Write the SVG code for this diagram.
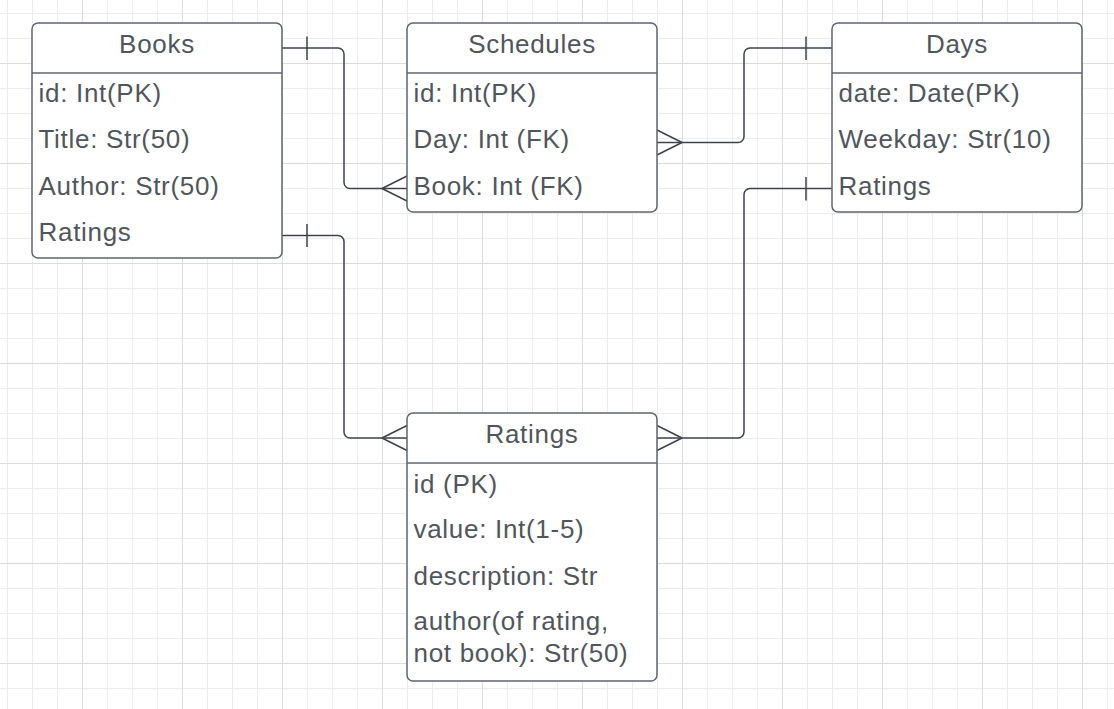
<svg xmlns="http://www.w3.org/2000/svg" width="1114" height="709" viewBox="0 0 1114 709">
<defs>
<pattern id="minor" width="25" height="25" patternUnits="userSpaceOnUse" x="7" y="13">
<path d="M0.5 0V25M0 0.5H25" stroke="#ececec" stroke-width="1" fill="none"/>
</pattern>
<pattern id="major" width="100" height="100" patternUnits="userSpaceOnUse" x="82" y="63">
<path d="M0.5 0V100M0 0.5H100" stroke="#dcdcdc" stroke-width="1" fill="none"/>
</pattern>
</defs>
<style>
.box{fill:#fff;stroke:#5e6570;stroke-width:1.5}
.div{stroke:#5e6570;stroke-width:1.5}
.t{font-family:"Liberation Sans",Arial,sans-serif;font-size:26px;fill:#50565e;letter-spacing:0.7px}
.h{text-anchor:middle}
.c{fill:none;stroke:#3c434c;stroke-width:1.5}
</style>
<rect width="1114" height="709" fill="#fff"/>
<rect width="1114" height="709" fill="url(#minor)"/>
<rect width="1114" height="709" fill="url(#major)"/>

<g id="connectors">
<path class="c" d="M282 48H338a6 6 0 0 1 6 6V182.5a6 6 0 0 0 6 6H407"/>
<path class="c" d="M307 36.5V60M382 188.5L407 176M382 188.5L407 201"/>
<path class="c" d="M282 235.5H338a6 6 0 0 1 6 6V432a6 6 0 0 0 6 6H407"/>
<path class="c" d="M307 224V247M382 438L407 425.5M382 438L407 450.5"/>
<path class="c" d="M657 142.5H738a6 6 0 0 0 6 -6V54a6 6 0 0 1 6 -6H832"/>
<path class="c" d="M806 36.5V60M682 142.5L657 130M682 142.5L657 155"/>
<path class="c" d="M657 438H738a6 6 0 0 0 6 -6V194.5a6 6 0 0 1 6 -6H832"/>
<path class="c" d="M806 177V200.5M682 438L657 425.5M682 438L657 450.5"/>
</g>

<g id="books">
<rect class="box" x="32" y="23" width="250" height="235" rx="6"/>
<line class="div" x1="32" y1="73" x2="282" y2="73"/>
<text class="t h" x="157" y="53">Books</text>
<text class="t" x="38.5" y="102">id: Int(PK)</text>
<text class="t" x="38.5" y="148">Title: Str(50)</text>
<text class="t" x="38.5" y="195">Author: Str(50)</text>
<text class="t" x="38.5" y="241">Ratings</text>
</g>

<g id="schedules">
<rect class="box" x="407" y="23" width="250" height="189" rx="6"/>
<line class="div" x1="407" y1="73" x2="657" y2="73"/>
<text class="t h" x="532" y="53">Schedules</text>
<text class="t" x="413.5" y="102">id: Int(PK)</text>
<text class="t" x="413.5" y="148">Day: Int (FK)</text>
<text class="t" x="413.5" y="195">Book: Int (FK)</text>
</g>

<g id="days">
<rect class="box" x="832" y="23" width="250" height="189" rx="6"/>
<line class="div" x1="832" y1="73" x2="1082" y2="73"/>
<text class="t h" x="957" y="53">Days</text>
<text class="t" x="838.5" y="102">date: Date(PK)</text>
<text class="t" x="838.5" y="148">Weekday: Str(10)</text>
<text class="t" x="838.5" y="195">Ratings</text>
</g>

<g id="ratings">
<rect class="box" x="407" y="413" width="250" height="268" rx="6"/>
<line class="div" x1="407" y1="463" x2="657" y2="463"/>
<text class="t h" x="532" y="443">Ratings</text>
<text class="t" x="413.5" y="493">id (PK)</text>
<text class="t" x="413.5" y="538">value: Int(1-5)</text>
<text class="t" x="413.5" y="585">description: Str</text>
<text class="t" x="413.5" y="630">author(of rating,</text>
<text class="t" x="413.5" y="662">not book): Str(50)</text>
</g>
</svg>
